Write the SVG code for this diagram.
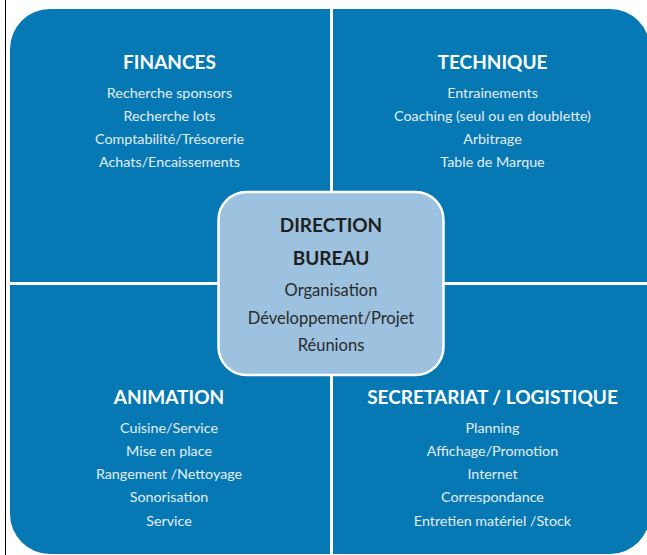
<svg xmlns="http://www.w3.org/2000/svg" width="647" height="555" viewBox="0 0 647 555">
<style>
.q{fill:#0679b5}
.h{font-family:Lato,"Liberation Sans",sans-serif;font-weight:bold;font-size:19px;fill:#ffffff;text-anchor:middle}
.i{font-family:Lato,"Liberation Sans",sans-serif;font-size:14.3px;fill:#e4eef6;text-anchor:middle}
.ch{font-family:Lato,"Liberation Sans",sans-serif;font-weight:bold;font-size:19px;fill:#1e1e1e;text-anchor:middle}
.ci{font-family:Lato,"Liberation Sans",sans-serif;font-size:16.5px;fill:#2a2a2a;text-anchor:middle}
</style>
<rect width="647" height="555" fill="#ffffff"/>
<line x1="5.5" y1="0" x2="5.5" y2="555" stroke="#000" stroke-width="1"/>
<g id="finances">
<path class="q" d="M10,49 A40,40 0 0 1 50,9 L330,9 L330,282 L10,282 Z"/>
<text class="h" x="169.5" y="69">FINANCES</text>
<text class="i" x="169.5" y="98">Recherche sponsors</text>
<text class="i" x="169.5" y="121">Recherche lots</text>
<text class="i" x="169.5" y="144">Comptabilité/Trésorerie</text>
<text class="i" x="169.5" y="167">Achats/Encaissements</text>
</g>
<g id="technique">
<path class="q" d="M333,9 L610,9 A40,40 0 0 1 650,49 L650,282 L333,282 Z"/>
<text class="h" x="492.5" y="69">TECHNIQUE</text>
<text class="i" x="492.5" y="98">Entrainements</text>
<text class="i" x="492.5" y="121">Coaching (seul ou en doublette)</text>
<text class="i" x="492.5" y="144">Arbitrage</text>
<text class="i" x="492.5" y="167">Table de Marque</text>
</g>
<g id="animation">
<path class="q" d="M10,285 L330,285 L330,554 L50,554 A40,40 0 0 1 10,514 Z"/>
<text class="h" x="169" y="404">ANIMATION</text>
<text class="i" x="169" y="433">Cuisine/Service</text>
<text class="i" x="169" y="456">Mise en place</text>
<text class="i" x="169" y="479">Rangement /Nettoyage</text>
<text class="i" x="169" y="502">Sonorisation</text>
<text class="i" x="169" y="525.5">Service</text>
</g>
<g id="secretariat">
<path class="q" d="M333,285 L650,285 L650,514 A40,40 0 0 1 610,554 L333,554 Z"/>
<text class="h" x="492.5" y="404">SECRETARIAT / LOGISTIQUE</text>
<text class="i" x="492.5" y="433">Planning</text>
<text class="i" x="492.5" y="456">Affichage/Promotion</text>
<text class="i" x="492.5" y="479">Internet</text>
<text class="i" x="492.5" y="502">Correspondance</text>
<text class="i" x="492.5" y="525.5">Entretien matériel /Stock</text>
</g>
<g id="direction">
<rect x="218.5" y="192" width="225" height="183" rx="28" ry="28" fill="#9cc2df" stroke="#ffffff" stroke-width="2.5"/>
<text class="ch" x="331" y="232">DIRECTION</text>
<text class="ch" x="331" y="265">BUREAU</text>
<text class="ci" x="331" y="295.5">Organisation</text>
<text class="ci" x="331" y="323.5">Développement/Projet</text>
<text class="ci" x="331" y="351">Réunions</text>
</g>
</svg>
